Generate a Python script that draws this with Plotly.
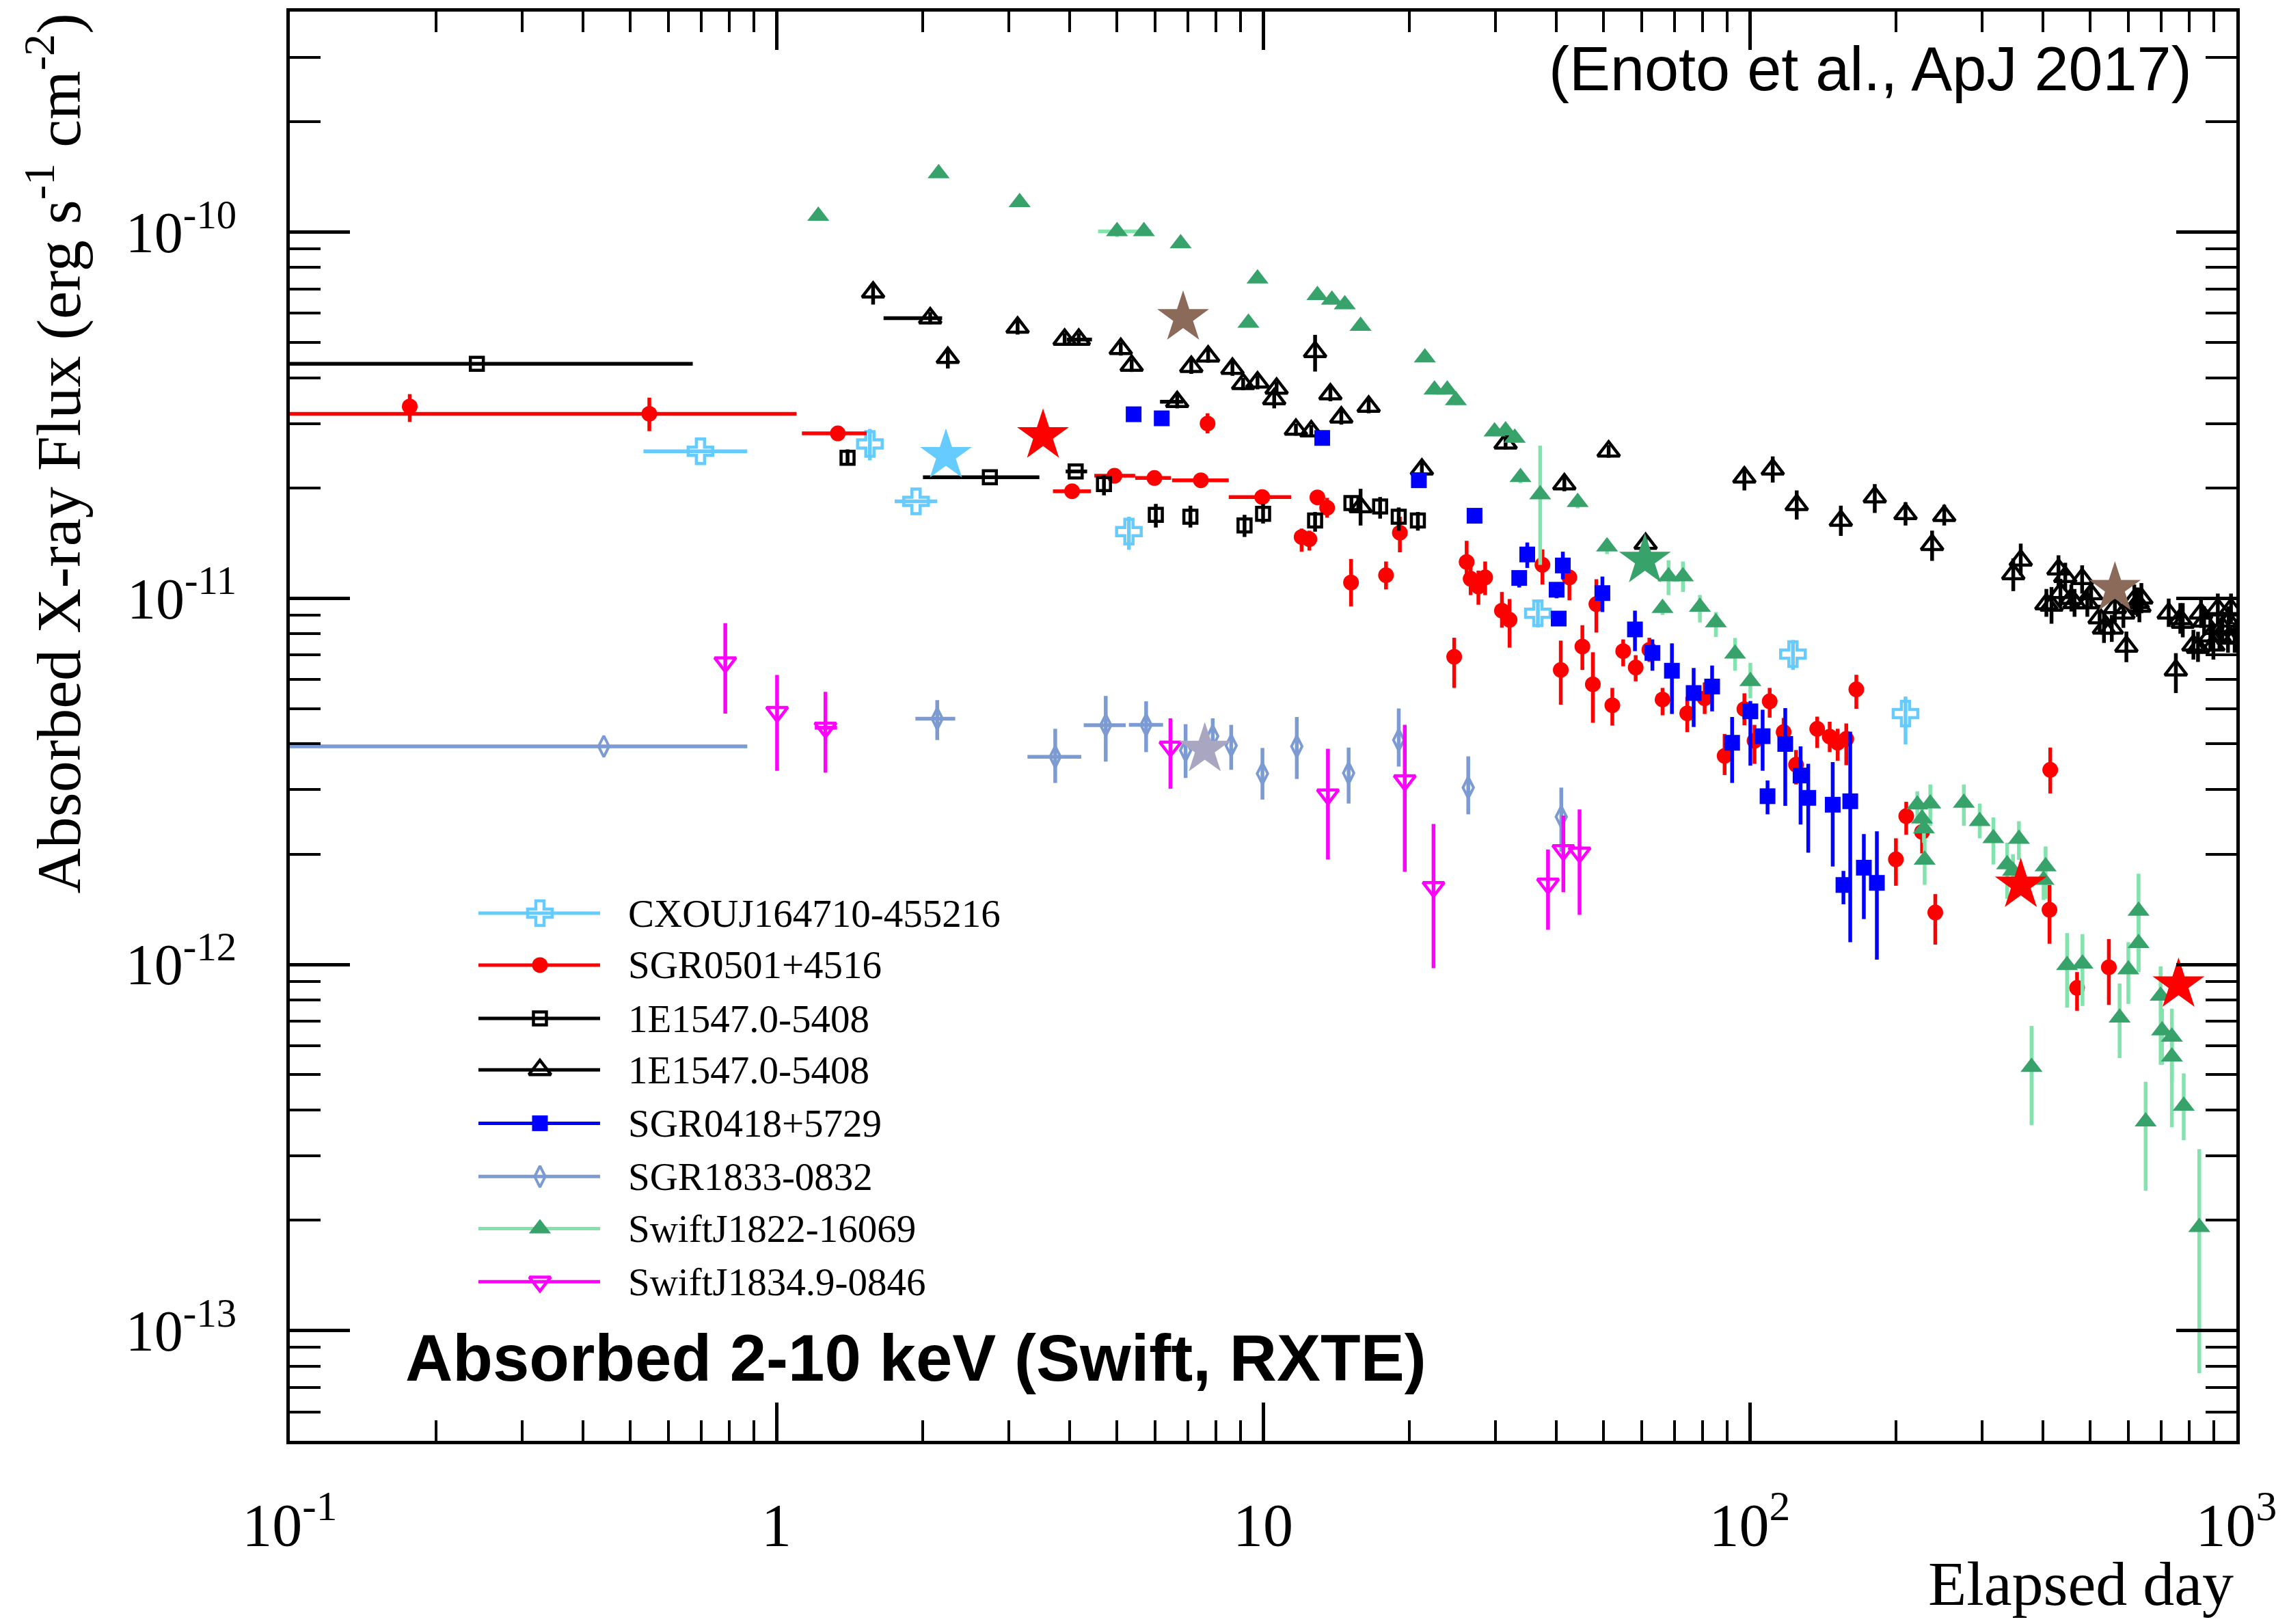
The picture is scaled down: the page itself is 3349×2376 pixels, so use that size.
import plotly.graph_objects as go
import math

# ---------------- data ----------------
# CXOUJ164710-455216
cx_x = [0.698, 1.556, 1.936, 5.30, 36.7, 122.7, 209.0]
cx_y = [2.52e-11, 2.64e-11, 1.84e-11, 1.52e-11, 9.1e-12, 7.04e-12, 4.84e-12]
cx_ylo = [None, 2.38e-11, None, 1.356e-11, 8.32e-12, 6.37e-12, 3.99e-12]
cx_yhi = [None, 2.90e-11, None, 1.67e-11, 9.86e-12, 7.69e-12, 5.39e-12]
cx_xlo = [0.533, None, 1.75, None, None, None, None]
cx_xhi = [0.871, None, 2.14, None, None, None, None]

# SGR0501+4516
sg05_x = [0.1764, 0.548, 1.337, 4.05, 4.95, 5.98, 7.45, 9.96, 7.69, 12.93, 13.54, 12.0, 12.45, 15.16,
          17.89, 19.1, 26.2, 26.7, 27.7, 28.6, 24.7, 30.96, 32.1, 37.5, 40.9, 42.6, 45.3, 47.6, 48.4,
          52.2, 54.95, 58.3, 62.2, 66.2, 74.4, 80.8, 97.5, 109.9, 165.6, 117.4, 137.6, 146, 151.6,
          157.9, 88.8, 102.3, 124.5, 199.7, 209.7, 226, 240.6, 414.5, 413, 470.6, 547]
sg05_y = [3.34e-11, 3.19e-11, 2.82e-11, 1.96e-11, 2.16e-11, 2.13e-11, 2.10e-11, 1.89e-11, 3.00e-11,
          1.886e-11, 1.766e-11, 1.47e-11, 1.45e-11, 1.104e-11, 1.156e-11, 1.51e-11, 1.256e-11, 1.13e-11,
          1.077e-11, 1.14e-11, 6.92e-12, 9.25e-12, 8.73e-12, 1.234e-11, 6.37e-12, 1.14e-11, 7.38e-12,
          5.82e-12, 9.64e-12, 5.10e-12, 7.17e-12, 6.47e-12, 7.23e-12, 5.29e-12, 4.85e-12, 5.33e-12,
          4.98e-12, 5.23e-12, 5.64e-12, 4.31e-12, 4.40e-12, 4.19e-12, 4.03e-12, 4.13e-12, 3.71e-12,
          4.08e-12, 3.51e-12, 1.936e-12, 2.54e-12, 2.30e-12, 1.386e-12, 3.40e-12, 1.41e-12, 8.63e-13,
          9.82e-13]
sg05_ylo = [3.03e-11, 2.86e-11, None, None, None, None, None, None, 2.82e-11, 1.80e-11, 1.66e-11,
            1.34e-11, 1.35e-11, 9.5e-12, 1.057e-11, 1.335e-11, 1.10e-11, 1.02e-11, 9.6e-12, 1.02e-11,
            5.69e-12, 8.31e-12, 7.33e-12, 1.09e-11, 5.12e-12, 9.87e-12, 6.37e-12, 4.57e-12, 8.06e-12,
            4.49e-12, 6.52e-12, 5.93e-12, 6.7e-12, 4.79e-12, 4.31e-12, 4.83e-12, 4.5e-12, 4.72e-12,
            4.99e-12, 3.85e-12, 3.9e-12, 3.8e-12, 3.6e-12, 3.5e-12, 3.29e-12, 3.53e-12, 3.10e-12,
            1.64e-12, 2.26e-12, 2.01e-12, 1.133e-12, 2.93e-12, 1.139e-12, 7.47e-13, 7.75e-13]
sg05_yhi = [3.61e-11, 3.53e-11, None, None, None, None, None, None, 3.2e-11, 1.96e-11, 1.88e-11,
            1.55e-11, 1.53e-11, 1.28e-11, 1.26e-11, 1.67e-11, 1.435e-11, 1.25e-11, 1.19e-11, 1.26e-11,
            7.8e-12, 1.04e-11, 9.95e-12, 1.36e-11, 7.66e-12, 1.192e-11, 8.44e-12, 7.12e-12, 1.127e-11,
            5.69e-12, 7.72e-12, 6.99e-12, 7.8e-12, 5.69e-12, 5.38e-12, 5.89e-12, 5.5e-12, 5.69e-12,
            6.18e-12, 4.71e-12, 4.75e-12, 4.6e-12, 4.4e-12, 4.55e-12, 4.26e-12, 4.51e-12, 3.85e-12,
            2.21e-12, 2.78e-12, 2.5e-12, 1.556e-12, 3.91e-12, 1.648e-12, 9.53e-13, 1.173e-12]
sg05_xlo = [None, 0.05, 1.128, 3.70, 4.50, 5.46, 6.50, 8.50] + [None] * 47
sg05_xhi = [None, 1.10, 1.532, 4.43, 5.46, 6.47, 8.50, 11.42] + [None] * 47

# 1E1547.0-5408 (squares)
e1s_x = [0.2423, 1.40, 2.745, 4.12, 4.71, 6.02, 7.09, 9.16, 10.0, 12.79, 15.19, 17.4, 19.0, 20.8]
e1s_y = [4.37e-11, 2.42e-11, 2.14e-11, 2.22e-11, 2.05e-11, 1.69e-11, 1.67e-11, 1.58e-11, 1.70e-11,
         1.63e-11, 1.82e-11, 1.78e-11, 1.67e-11, 1.63e-11]
e1s_ylo = [None, 2.31e-11, None, None, 1.91e-11, 1.56e-11, 1.56e-11, 1.47e-11, 1.60e-11, 1.52e-11,
           1.74e-11, 1.65e-11, 1.53e-11, 1.53e-11]
e1s_yhi = [None, 2.55e-11, None, None, 2.17e-11, 1.81e-11, 1.79e-11, 1.69e-11, 1.81e-11, 1.72e-11,
           1.90e-11, 1.89e-11, 1.77e-11, 1.72e-11]
e1s_xlo = [0.05, None, 2.0, 3.93] + [None] * 10
e1s_xhi = [0.673, None, 3.47, 4.35] + [None] * 10

# 1E1547.0-5408 (triangles)
e1t_x = [1.58, 2.07, 2.25, 3.13, 3.91, 4.18, 5.10, 5.37, 6.66, 7.12, 7.71, 8.65, 9.10, 9.74, 10.66,
         10.54, 12.79, 11.68, 12.56, 13.75, 14.48, 16.48, 21.2, 15.86, 31.5, 51.3, 41.6, 97.5, 111.5,
         124.9, 153.9, 180.7, 209, 251, 237, 360.5, 348, 407, 61.1, 431, 445, 482, 435, 458, 417, 465,
         494, 503, 523.6, 534.5, 554.6, 562.9, 585.9, 594.3, 617, 627, 638, 632, 726, 776, 767, 751,
         816, 834, 846, 858.5, 884, 897, 916, 923, 936, 961, 975, 992, 964]
e1t_y = [6.85e-11, 5.82e-11, 4.54e-11, 5.49e-11, 5.09e-11, 5.09e-11, 4.80e-11, 4.32e-11, 3.44e-11,
         4.29e-11, 4.58e-11, 4.24e-11, 3.85e-11, 3.89e-11, 3.74e-11, 3.50e-11, 4.71e-11, 2.89e-11,
         2.86e-11, 3.61e-11, 3.12e-11, 3.34e-11, 2.25e-11, 1.776e-11, 2.65e-11, 2.52e-11, 2.05e-11,
         2.14e-11, 2.25e-11, 1.80e-11, 1.63e-11, 1.89e-11, 1.70e-11, 1.68e-11, 1.40e-11, 1.27e-11,
         1.165e-11, 9.64e-12, 1.41e-11, 1.20e-11, 1.145e-11, 1.13e-11, 1.035e-11, 9.98e-12, 9.56e-12,
         9.71e-12, 9.70e-12, 1.027e-11, 8.83e-12, 8.28e-12, 8.28e-12, 9.42e-12, 9.10e-12, 7.39e-12,
         9.91e-12, 9.72e-12, 1.0e-11, 9.5e-12, 9.10e-12, 8.59e-12, 8.78e-12, 6.36e-12, 7.44e-12,
         7.33e-12, 9.10e-12, 8.65e-12, 7.88e-12, 7.44e-12, 9.36e-12, 7.88e-12, 8.35e-12, 7.77e-12,
         9.36e-12, 7.82e-12, 8.65e-12]
e1t_ylo = [6.34e-11, 5.6e-11, 4.24e-11, 5.25e-11, 4.9e-11, 4.9e-11, 4.6e-11, 4.15e-11, 3.3e-11, 4.1e-11,
           4.4e-11, 4.05e-11, 3.7e-11, 3.72e-11, 3.58e-11, 3.3e-11, 4.16e-11, 2.78e-11, 2.75e-11,
           3.45e-11, 2.98e-11, 3.2e-11, 2.15e-11, 1.58e-11, 2.55e-11, 2.42e-11, 1.96e-11, 1.97e-11,
           2.07e-11, 1.64e-11, 1.48e-11, 1.71e-11, 1.58e-11, 1.58e-11, 1.265e-11, 1.155e-11, 1.046e-11,
           8.9e-12, 1.35e-11, 1.066e-11, 1.05e-11, 1.03e-11, 9.5e-12, 9.2e-12, 8.52e-12, 8.9e-12,
           8.9e-12, 9.4e-12, 8.1e-12, 7.55e-12, 7.6e-12, 8.6e-12, 8.3e-12, 6.69e-12, 9.0e-12, 8.9e-12,
           9.1e-12, 8.6e-12, 8.35e-12, 7.82e-12, 8.0e-12, 5.51e-12, 6.8e-12, 6.7e-12, 8.3e-12, 7.9e-12,
           7.2e-12, 6.8e-12, 8.5e-12, 7.2e-12, 7.6e-12, 7.1e-12, 8.5e-12, 7.1e-12, 7.9e-12]
e1t_yhi = [7.25e-11, 6.05e-11, 4.80e-11, 5.75e-11, 5.3e-11, 5.3e-11, 5.0e-11, 4.5e-11, 3.6e-11, 4.5e-11,
           4.8e-11, 4.45e-11, 4.0e-11, 4.06e-11, 3.9e-11, 3.7e-11, 5.24e-11, 3.0e-11, 2.97e-11,
           3.78e-11, 3.27e-11, 3.5e-11, 2.36e-11, 1.99e-11, 2.76e-11, 2.62e-11, 2.15e-11, 2.28e-11,
           2.44e-11, 1.97e-11, 1.79e-11, 2.05e-11, 1.83e-11, 1.80e-11, 1.53e-11, 1.41e-11, 1.285e-11,
           1.06e-11, 1.47e-11, 1.31e-11, 1.25e-11, 1.23e-11, 1.13e-11, 1.09e-11, 1.073e-11, 1.06e-11,
           1.06e-11, 1.12e-11, 9.6e-12, 9.10e-12, 9.0e-12, 1.03e-11, 1.0e-11, 8.11e-12, 1.09e-11,
           1.07e-11, 1.1e-11, 1.04e-11, 9.98e-12, 9.70e-12, 9.7e-12, 7.08e-12, 8.2e-12, 8.1e-12, 1.0e-11,
           9.5e-12, 8.7e-12, 8.2e-12, 1.03e-11, 8.7e-12, 9.2e-12, 8.6e-12, 1.03e-11, 8.6e-12, 9.5e-12]
e1t_xlo = [None, 1.66, None, None, None, 3.95, None, None, 6.14] + [None] * 66
e1t_xhi = [None, 2.19, None, None, None, 4.45, None, None, 6.85] + [None] * 66

# SGR0418+5729
s04_x = [5.42, 6.19, 13.23, 20.9, 27.2, 34.9, 33.6, 41.3, 40.1, 40.5, 49.8, 58.1, 63.1, 69.2, 76.7,
         83.7, 100.3, 92.0, 106.3, 118.3, 108.8, 127.2, 131.9, 148.1, 160.9, 155.8, 171.6, 182.5]
s04_y = [3.18e-11, 3.10e-11, 2.74e-11, 2.10e-11, 1.68e-11, 1.317e-11, 1.136e-11, 1.229e-11, 1.055e-11,
         8.80e-12, 1.033e-11, 8.22e-12, 7.09e-12, 6.34e-12, 5.51e-12, 5.74e-12, 4.91e-12, 4.03e-12,
         4.20e-12, 4.0e-12, 2.88e-12, 3.28e-12, 2.85e-12, 2.73e-12, 2.79e-12, 1.648e-12, 1.837e-12,
         1.67e-12]
s04_ylo = [3.08e-11, 3.0e-11, 2.65e-11, 2.02e-11, 1.60e-11, 1.21e-11, 1.07e-11, 1.127e-11, 1.0e-11,
           8.4e-12, 9.17e-12, 7.17e-12, 6.34e-12, 4.83e-12, 4.45e-12, 4.91e-12, 3.49e-12, 3.13e-12,
           3.38e-12, 2.71e-12, 2.57e-12, 2.41e-12, 2.02e-12, 1.85e-12, 1.15e-12, 1.46e-12, 1.33e-12,
           1.03e-12]
s04_yhi = [3.28e-11, 3.2e-11, 2.83e-11, 2.19e-11, 1.76e-11, 1.42e-11, 1.18e-11, 1.34e-11, 1.10e-11,
           9.2e-12, 1.146e-11, 9.25e-12, 7.72e-12, 7.53e-12, 6.45e-12, 6.55e-12, 5.24e-12, 4.74e-12,
           4.96e-12, 5.01e-12, 3.18e-12, 3.94e-12, 3.53e-12, 3.57e-12, 4.32e-12, 1.80e-12, 2.27e-12,
           2.31e-12]

# SGR1833-0832
s18_x = [0.4418, 2.14, 3.74, 4.75, 5.75, 6.93, 7.88, 8.60, 9.97, 11.73, 14.99, 19.0, 26.4, 41.0]
s18_y = [3.94e-12, 4.69e-12, 3.69e-12, 4.50e-12, 4.51e-12, 3.84e-12, 4.20e-12, 3.96e-12, 3.32e-12,
         3.94e-12, 3.33e-12, 4.10e-12, 3.04e-12, 2.53e-12]
s18_ylo = [None, 4.10e-12, 3.13e-12, 3.58e-12, 3.80e-12, 3.23e-12, 3.58e-12, 3.40e-12, 2.82e-12,
           3.21e-12, 2.75e-12, 3.47e-12, 2.57e-12, 2.03e-12]
s18_yhi = [None, 5.27e-12, 4.40e-12, 5.41e-12, 5.23e-12, 4.53e-12, 4.70e-12, 4.51e-12, 3.90e-12,
           4.74e-12, 3.91e-12, 5.0e-12, 3.70e-12, 3.04e-12]
s18_xlo = [0.05, 1.93, 3.28, 4.28, 5.30] + [None] * 9
s18_xhi = [0.871, 2.33, 4.23, 5.22, 6.23] + [None] * 9

# SwiftJ1822-16069
j22_x = [1.219, 2.154, 3.16, 5.01, 5.69, 6.77, 9.74, 9.33, 12.93, 13.85, 14.72, 15.86, 21.5, 22.5, 23.9,
         24.9, 29.9, 31.5, 32.9, 33.8, 37.1, 44.3, 50.9, 68.1, 72.9, 66.2, 79.0, 85.2, 93.3, 100.3, 221,
         235, 226, 228, 228.8, 275.4, 296.9, 316.7, 338, 357.4, 347.5, 405.5, 401.6, 379.4, 448.8,
         482.8, 575.5, 599.8, 629.5, 629.5, 651, 698.8, 703.6, 737, 737, 779.5, 839]
j22_y = [1.106e-10, 1.446e-10, 1.206e-10, 1.005e-10, 1.005e-10, 9.31e-11, 7.46e-11, 5.65e-11, 6.72e-11,
         6.53e-11, 6.34e-11, 5.54e-11, 4.54e-11, 3.71e-11, 3.71e-11, 3.47e-11, 2.85e-11, 2.87e-11,
         2.74e-11, 2.14e-11, 1.92e-11, 1.83e-11, 1.384e-11, 1.146e-11, 1.146e-11, 9.40e-12, 9.47e-12,
         8.59e-12, 7.05e-12, 5.93e-12, 2.73e-12, 2.75e-12, 2.50e-12, 2.35e-12, 1.93e-12, 2.76e-12,
         2.46e-12, 2.21e-12, 1.875e-12, 2.20e-12, 1.80e-12, 1.85e-12, 1.70e-12, 5.24e-13, 9.95e-13,
         1.004e-12, 7.15e-13, 9.68e-13, 1.40e-12, 1.143e-12, 3.72e-13, 8.21e-13, 6.60e-13, 6.34e-13,
         5.60e-13, 4.11e-13, 1.916e-13]
j22_ylo = [1.08e-10, 1.41e-10, 1.18e-10, 0.97e-10, 0.98e-10, 9.1e-11, 7.3e-11, 5.5e-11, 6.55e-11,
           6.37e-11, 6.18e-11, 5.4e-11, 4.42e-11, 3.6e-11, 3.6e-11, 3.37e-11, 2.77e-11, 2.79e-11,
           2.66e-11, 2.06e-11, 1.233e-11, 1.76e-11, 1.32e-11, 1.02e-11, 1.04e-11, 9.0e-12, 8.59e-12,
           7.84e-12, 6.34e-12, 5.33e-12, 2.43e-12, 2.39e-12, 2.3e-12, 2.15e-12, 1.65e-12, 2.39e-12,
           2.21e-12, 1.875e-12, 1.51e-12, 1.93e-12, 1.6e-12, 1.51e-12, 1.5e-12, 3.64e-13, 7.62e-13,
           7.7e-13, 5.55e-13, 7.8e-13, 9.53e-13, 9.53e-13, 2.41e-13, 5.32e-13, 5.32e-13, 4.78e-13,
           3.59e-13, 3.31e-13, 7.65e-14]
j22_yhi = [1.13e-10, 1.48e-10, 1.23e-10, 1.04e-10, 1.03e-10, 9.5e-11, 7.6e-11, 5.8e-11, 6.9e-11,
           6.7e-11, 6.5e-11, 5.7e-11, 4.66e-11, 3.82e-11, 3.82e-11, 3.57e-11, 2.93e-11, 2.95e-11,
           2.82e-11, 2.22e-11, 2.61e-11, 1.91e-11, 1.45e-11, 1.27e-11, 1.26e-11, 9.8e-12, 1.021e-11,
           9.17e-12, 7.79e-12, 6.66e-12, 2.97e-12, 3.10e-12, 2.7e-12, 2.55e-12, 2.20e-12, 3.10e-12,
           2.75e-12, 2.52e-12, 2.15e-12, 2.46e-12, 2.0e-12, 2.10e-12, 1.9e-12, 6.79e-13, 1.218e-12,
           1.21e-12, 8.87e-13, 1.15e-12, 1.77e-12, 1.366e-12, 4.78e-13, 9.87e-13, 7.57e-13, 7.57e-13,
           6.56e-13, 5.04e-13, 3.13e-13]
j22_xlo = [None, None, None, 4.58] + [None] * 53
j22_xhi = [None, None, None, 5.89] + [None] * 53

# SwiftJ1834.9-0846
j34_x = [0.785, 1.003, 1.261, 6.45, 13.59, 19.55, 22.4, 38.5, 41.4, 44.7]
j34_y = [6.68e-12, 4.89e-12, 4.43e-12, 3.93e-12, 2.91e-12, 3.18e-12, 1.626e-12, 1.66e-12, 2.05e-12,
         2.02e-12]
j34_ylo = [4.84e-12, 3.38e-12, 3.34e-12, 3.02e-12, 1.934e-12, 1.79e-12, 9.77e-13, 1.243e-12, 1.575e-12,
           1.365e-12]
j34_yhi = [8.55e-12, 6.17e-12, 5.55e-12, 4.70e-12, 3.88e-12, 4.51e-12, 2.42e-12, 2.06e-12, 2.55e-12,
           2.65e-12]
j34_xlo = [None, None, 1.199] + [None] * 7
j34_xhi = [None, None, 1.332] + [None] * 7

# Star markers
star_x = [2.23, 3.53, 6.85, 7.59, 60.9, 360.6, 562.9, 760.6]
star_y = [2.455e-11, 2.78e-11, 5.84e-11, 3.87e-12, 1.27e-11, 1.648e-12, 1.064e-11, 8.8e-13]

legend_names = ["CXOUJ164710-455216", "SGR0501+4516", "1E1547.0-5408", "1E1547.0-5408",
                "SGR0418+5729", "SGR1833-0832", "SwiftJ1822-16069", "SwiftJ1834.9-0846"]

x_tickvals = [0.1, 1, 10, 100, 1000]
x_ticktext = ["10<sup>-1</sup>", "1", "10", "10<sup>2</sup>", "10<sup>3</sup>"]
y_tickvals = [1e-13, 1e-12, 1e-11, 1e-10]
y_ticktext = ["10<sup>-13</sup>", "10<sup>-12</sup>", "10<sup>-11</sup>", "10<sup>-10</sup>"]

# ---------------- styles ----------------
C_CX = "#66CCFF"
C_RED = "#FF0000"
C_BLK = "#000000"
C_BLUE = "#0000FF"
C_STEEL = "#7B9BD2"
C_GRN = "#37A36B"
C_GRN_L = "#82E3AC"
C_MAG = "#FF00FF"
C_BROWN = "#8C6A5A"
C_GREY = "#A9A6C2"
star_colors = [C_CX, C_RED, C_BROWN, C_GREY, C_GRN, C_RED, C_BROWN, C_RED]

SERIF = "Liberation Serif"
SANS = "Liberation Sans"
EB_T = 5.5

# marker styles: (symbol, size, line width)
ST_CX = ("cross-open", 30, 4.5)
ST_RED = ("circle", 23, 0)
ST_SQ = ("square-open", 19, 4.5)
ST_TRI = ("triangle-up-open", 28, 4.5)
ST_BLUE = ("square", 23, 0)
ST_DIA = ("diamond-tall-open", 22, 4)
ST_GRN = ("triangle-up", 28, 0)
ST_MAG = ("triangle-down-open", 27, 4.5)


def fill(vals, ref):
    return [r if v is None else v for v, r in zip(vals, ref)]


def err(vals, lo, hi, color):
    lo = fill(lo, vals)
    hi = fill(hi, vals)
    return dict(type="data", symmetric=False,
                array=[h - v for h, v in zip(hi, vals)],
                arrayminus=[v - l for v, l in zip(vals, lo)],
                width=0, thickness=EB_T, color=color, visible=True)


fig = go.Figure()


def add_series(x, y, ylo, yhi, xlo, xhi, color, ecolor, style):
    symbol, size, lw = style
    marker = dict(symbol=symbol, size=size, color=color, line=dict(width=lw, color=color))
    kw = {"error_y": err(y, ylo, yhi, ecolor)}
    if xlo is not None:
        kw["error_x"] = err(x, xlo, xhi, ecolor)
    fig.add_trace(go.Scatter(x=x, y=y, mode="markers", marker=marker, showlegend=False,
                             hoverinfo="skip", **kw))


add_series(cx_x, cx_y, cx_ylo, cx_yhi, cx_xlo, cx_xhi, C_CX, C_CX, ST_CX)
add_series(sg05_x, sg05_y, sg05_ylo, sg05_yhi, sg05_xlo, sg05_xhi, C_RED, C_RED, ST_RED)
add_series(e1s_x, e1s_y, e1s_ylo, e1s_yhi, e1s_xlo, e1s_xhi, C_BLK, C_BLK, ST_SQ)
add_series(e1t_x, e1t_y, e1t_ylo, e1t_yhi, e1t_xlo, e1t_xhi, C_BLK, C_BLK, ST_TRI)
add_series(s04_x, s04_y, s04_ylo, s04_yhi, None, None, C_BLUE, C_BLUE, ST_BLUE)
add_series(s18_x, s18_y, s18_ylo, s18_yhi, s18_xlo, s18_xhi, C_STEEL, C_STEEL, ST_DIA)
add_series(j22_x, j22_y, j22_ylo, j22_yhi, j22_xlo, j22_xhi, C_GRN, C_GRN_L, ST_GRN)
add_series(j34_x, j34_y, j34_ylo, j34_yhi, j34_xlo, j34_xhi, C_MAG, C_MAG, ST_MAG)

fig.add_trace(go.Scatter(x=star_x, y=star_y, mode="markers", showlegend=False, hoverinfo="skip",
                         marker=dict(symbol="star", size=57, color=star_colors, line=dict(width=0))))

# ---------------- manual legend (overlay axes spanning the plot area) ----------------
leg_rows = [0.3692, 0.3329, 0.2955, 0.2596, 0.2222, 0.1849, 0.1485, 0.1113]
leg_x0, leg_x1, leg_xm, leg_tx = 0.0969, 0.1594, 0.1285, 0.1731
leg_style = [
    (C_CX, C_CX, ST_CX),
    (C_RED, C_RED, ST_RED),
    (C_BLK, C_BLK, ST_SQ),
    (C_BLK, C_BLK, ST_TRI),
    (C_BLUE, C_BLUE, ST_BLUE),
    (C_STEEL, C_STEEL, ST_DIA),
    (C_GRN_L, C_GRN, ST_GRN),
    (C_MAG, C_MAG, ST_MAG),
]
annotations = []
for name, yy, (lc, mc, (sym, sz, lw)) in zip(legend_names, leg_rows, leg_style):
    fig.add_trace(go.Scatter(x=[leg_x0, leg_x1], y=[yy, yy], mode="lines", xaxis="x2", yaxis="y2",
                             line=dict(color=lc, width=5), showlegend=False, hoverinfo="skip"))
    fig.add_trace(go.Scatter(x=[leg_xm], y=[yy], mode="markers", xaxis="x2", yaxis="y2",
                             marker=dict(symbol=sym, size=sz, color=mc, line=dict(width=lw, color=mc)),
                             showlegend=False, hoverinfo="skip"))
    annotations.append(dict(x=leg_tx, y=yy, xref="paper", yref="paper", text=name, showarrow=False,
                            xanchor="left", yanchor="middle",
                            font=dict(family=SERIF, size=57, color="black")))

annotations += [
    dict(x=0.9780, y=0.9599, xref="paper", yref="paper", text="(Enoto et al., ApJ 2017)",
         showarrow=False, xanchor="right", yanchor="middle",
         font=dict(family=SANS, size=90, color="black")),
    dict(x=0.0586, y=0.0583, xref="paper", yref="paper", text="<b>Absorbed 2-10 keV (Swift, RXTE)</b>",
         showarrow=False, xanchor="left", yanchor="middle",
         font=dict(family=SANS, size=96, color="black")),
    dict(x=0.9993, y=-0.1000, xref="paper", yref="paper", text="Elapsed day",
         showarrow=False, xanchor="right", yanchor="middle",
         font=dict(family=SERIF, size=92, color="black")),
    dict(x=-0.1211, y=1.0, xref="paper", yref="paper",
         text="Absorbed X-ray Flux (erg s<sup>-1</sup> cm<sup>-2</sup>)",
         showarrow=False, xanchor="center", yanchor="top", textangle=-90,
         font=dict(family=SERIF, size=92, color="black")),
]

minor_x = [m * 10 ** e for e in range(-1, 3) for m in range(2, 10)]
minor_y = [m * 10 ** e for e in range(-14, -9) for m in range(2, 10)
           if 5e-14 <= m * 10 ** e <= 4e-10]

fig.update_layout(
    width=3349, height=2376,
    margin=dict(l=424, r=77, t=15, b=268),
    paper_bgcolor="white", plot_bgcolor="white",
    showlegend=False,
    annotations=annotations,
    xaxis=dict(type="log", range=[-1, 3], showgrid=False, zeroline=False,
               showline=True, linewidth=5, linecolor="black", mirror="allticks",
               ticks="inside", ticklen=56, tickwidth=5, tickcolor="black",
               tickmode="array", tickvals=x_tickvals, ticktext=x_ticktext,
               tickfont=dict(family=SERIF, size=88, color="black"), ticklabelstandoff=42,
               minor=dict(tickmode="array", tickvals=minor_x, ticks="inside", ticklen=30,
                          tickwidth=4, tickcolor="black", showgrid=False)),
    yaxis=dict(type="log", range=[math.log10(5e-14), math.log10(4e-10)], showgrid=False,
               zeroline=False, showline=True, linewidth=5, linecolor="black", mirror="allticks",
               ticks="inside", ticklen=88, tickwidth=5, tickcolor="black",
               tickmode="array", tickvals=y_tickvals, ticktext=y_ticktext,
               tickfont=dict(family=SERIF, size=84, color="black"), ticklabelstandoff=56,
               minor=dict(tickmode="array", tickvals=minor_y, ticks="inside", ticklen=45,
                          tickwidth=4, tickcolor="black", showgrid=False)),
    xaxis2=dict(overlaying="x", range=[0, 1], visible=False, anchor="y2"),
    yaxis2=dict(overlaying="y", range=[0, 1], visible=False, anchor="x2"),
)

fig.write_html("out.html")
